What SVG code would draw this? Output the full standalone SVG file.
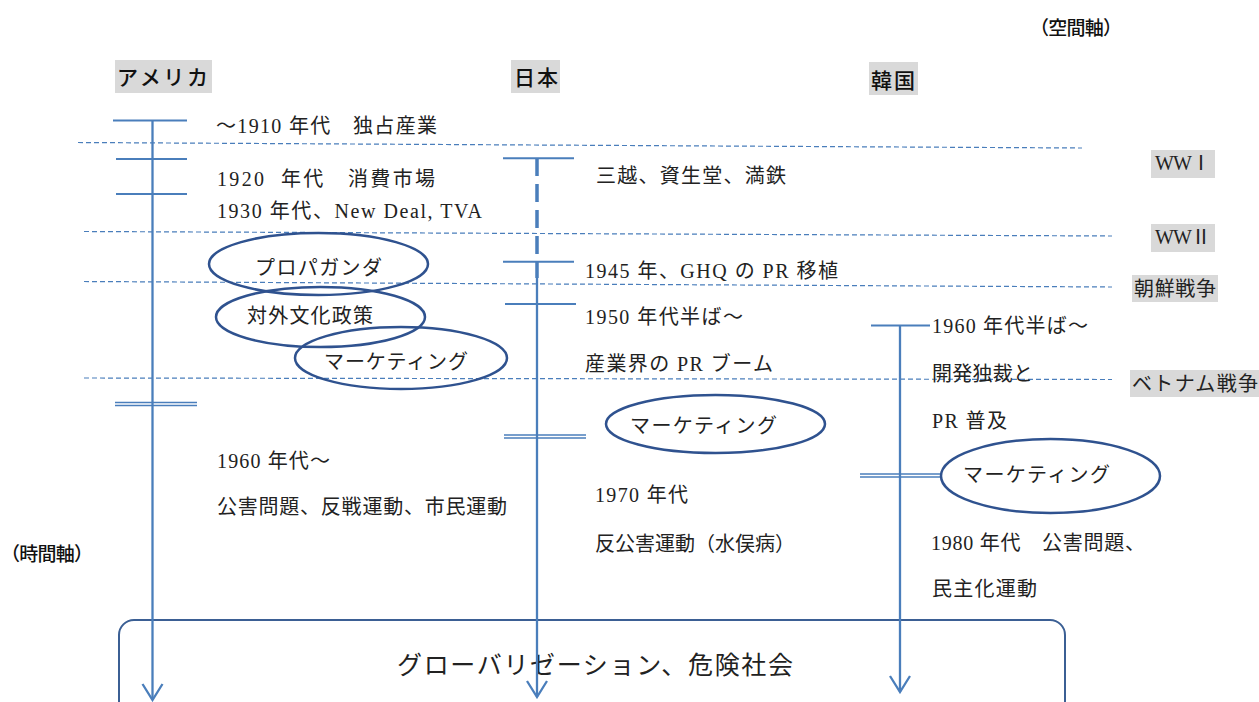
<svg xmlns="http://www.w3.org/2000/svg" width="1259" height="702" viewBox="0 0 1259 702">
<style>
.t{font-family:"Liberation Serif","Noto Sans CJK JP",serif;font-size:20px;fill:#222;white-space:pre}
.h{font-family:"Noto Sans CJK JP","Noto Sans CJK SC",sans-serif;font-size:21px;font-weight:500;fill:#111;white-space:pre}
.axl{font-family:"Noto Sans CJK JP","Noto Sans CJK SC",sans-serif;font-size:19px;font-weight:500;fill:#111;white-space:pre}
.tag{fill:#d9d9d9}
.dl{stroke:#4a7ebb;stroke-width:1.2;stroke-dasharray:5 3;fill:none}
.axis{stroke:#4a7ebb;stroke-width:2.3;fill:none}
.dash{stroke:#4a7ebb;stroke-width:3.5;stroke-dasharray:18 8;fill:none}
.tick{stroke:#4a7ebb;stroke-width:2;fill:none}
.dbl{stroke:#4a7ebb;stroke-width:1.4;fill:none}
.el{fill:none;stroke:#2f528f;stroke-width:2.5}
</style>
<defs>
<marker id="arr" markerUnits="userSpaceOnUse" viewBox="-1 -12 19 24" markerWidth="19" markerHeight="24" refX="16" refY="0" orient="auto">
<path d="M0,-10 L16,0 L0,10" fill="none" stroke="#4a7ebb" stroke-width="2.3"/>
</marker>
</defs>
<rect width="1259" height="702" fill="#fff"/>

<g id="axis-labels">
<text class="axl" x="1030" y="35" textLength="92">（空間軸）</text>
<text class="axl" x="1" y="561" textLength="92">（時間軸）</text>
</g>

<g id="header-america"><rect class="tag" x="115" y="60" width="97" height="33"/><text class="h" x="117" y="85" textLength="91">アメリカ</text></g>
<g id="header-japan"><rect class="tag" x="511" y="60" width="49" height="33"/><text class="h" x="514" y="85" textLength="44">日本</text></g>
<g id="header-korea"><rect class="tag" x="869" y="62" width="49" height="33"/><text class="h" x="871" y="88" textLength="44">韓国</text></g>

<g id="event-ww1"><rect class="tag" x="1151" y="150" width="64" height="28"/><text class="t" x="1155" y="170" textLength="56">WWⅠ</text></g>
<g id="event-ww2"><rect class="tag" x="1151" y="224" width="64" height="28"/><text class="t" x="1155" y="244" textLength="56">WWⅡ</text></g>
<g id="event-korean-war"><rect class="tag" x="1132" y="275" width="86" height="27"/><text class="t" x="1134" y="296" textLength="82">朝鮮戦争</text></g>
<g id="event-vietnam-war"><rect class="tag" x="1130" y="370" width="129" height="27"/><text class="t" x="1132" y="391" textLength="126">ベトナム戦争</text></g>

<g id="bottom-box">
<rect x="119" y="620" width="946" height="100" rx="15" fill="none" stroke="#3b5f94" stroke-width="2"/>
<text class="t" x="397" y="674" style="font-size:25px" textLength="396">グローバリゼーション、危険社会</text>
</g>

<g id="connectors">
<line class="dl" x1="78" y1="142.5" x2="1082" y2="148"/>
<line class="dl" x1="84" y1="231.5" x2="1112" y2="236"/>
<line class="dl" x1="84" y1="281.5" x2="1112" y2="287"/>
<line class="dl" x1="84" y1="378" x2="1112" y2="379.5"/>

<line class="axis" x1="152.5" y1="120" x2="152.5" y2="700" marker-end="url(#arr)"/>
<line class="tick" x1="113" y1="120.5" x2="187" y2="120.5"/>
<line class="tick" x1="116" y1="159" x2="187" y2="159"/>
<line class="tick" x1="116" y1="194" x2="187" y2="194"/>
<line class="dbl" x1="115" y1="402.5" x2="197" y2="402.5"/>
<line class="dbl" x1="115" y1="405.5" x2="197" y2="405.5"/>

<line class="dash" x1="537" y1="158" x2="537" y2="278"/>
<line class="axis" x1="537" y1="278" x2="537" y2="697" marker-end="url(#arr)"/>
<line class="tick" x1="503" y1="158.3" x2="574" y2="158.3"/>
<line class="tick" x1="503" y1="261.7" x2="574" y2="261.7"/>
<line class="tick" x1="505" y1="304" x2="576" y2="304"/>
<line class="dbl" x1="504" y1="435" x2="586" y2="435"/>
<line class="dbl" x1="504" y1="438" x2="586" y2="438"/>

<line class="axis" x1="900" y1="325.5" x2="900" y2="692" marker-end="url(#arr)"/>
<line class="tick" x1="871" y1="325.5" x2="930" y2="325.5"/>
<line class="dbl" x1="860" y1="474" x2="941" y2="474"/>
<line class="dbl" x1="860" y1="477" x2="941" y2="477"/>
</g>

<g id="us-1910"><text class="t" x="216" y="133" textLength="221">～1910 年代　独占産業</text></g>
<g id="us-1920"><text class="t" x="217" y="186" textLength="218">1920  年代　消費市場</text></g>
<g id="us-1930"><text class="t" x="217" y="218" textLength="265">1930 年代、New Deal, TVA</text></g>
<g id="us-propaganda"><ellipse class="el" cx="318.5" cy="264" rx="109.5" ry="31"/><text class="t" x="255" y="275" textLength="127">プロパガンダ</text></g>
<g id="us-cultural-policy"><ellipse class="el" cx="320.5" cy="317" rx="104.5" ry="30"/><text class="t" x="247" y="323" textLength="126">対外文化政策</text></g>
<g id="us-marketing"><ellipse class="el" cx="401" cy="358" rx="106" ry="31"/><text class="t" x="324" y="369" textLength="144">マーケティング</text></g>
<g id="us-1960"><text class="t" x="217" y="468" textLength="113">1960 年代～</text><text class="t" x="217" y="514" textLength="290">公害問題、反戦運動、市民運動</text></g>

<g id="jp-prewar"><text class="t" x="596" y="183" textLength="190">三越、資生堂、満鉄</text></g>
<g id="jp-1945"><text class="t" x="585" y="278" textLength="253">1945 年、GHQ の PR 移植</text></g>
<g id="jp-1950"><text class="t" x="585" y="324" textLength="158">1950 年代半ば～</text><text class="t" x="585" y="371" textLength="188">産業界の PR ブーム</text></g>
<g id="jp-marketing"><ellipse class="el" cx="715.5" cy="424" rx="109.5" ry="29"/><text class="t" x="630" y="433" textLength="147">マーケティング</text></g>
<g id="jp-1970"><text class="t" x="595" y="502" textLength="93">1970 年代</text><text class="t" x="595" y="551" textLength="200">反公害運動（水俣病）</text></g>

<g id="kr-1960"><text class="t" x="932" y="333" textLength="156">1960 年代半ば～</text><text class="t" x="932" y="381" textLength="101">開発独裁と</text><text class="t" x="932" y="428" textLength="75">PR 普及</text></g>
<g id="kr-marketing"><ellipse class="el" cx="1050.5" cy="476" rx="109.5" ry="37"/><text class="t" x="963" y="482" textLength="147">マーケティング</text></g>
<g id="kr-1980"><text class="t" x="931" y="550" textLength="214">1980 年代　公害問題、</text><text class="t" x="932" y="596" textLength="105">民主化運動</text></g>
</svg>
